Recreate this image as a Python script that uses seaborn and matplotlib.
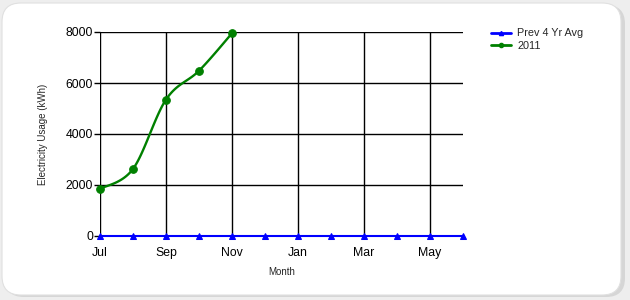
import numpy as np
import pandas as pd
import matplotlib
matplotlib.use("Agg")
import matplotlib.pyplot as plt
from matplotlib.patches import FancyBboxPatch
from matplotlib.lines import Line2D
import seaborn as sns

months = ["Jul", "Aug", "Sep", "Oct", "Nov", "Dec", "Jan", "Feb", "Mar", "Apr", "May", "Jun"]
prev_avg = [0, 0, 0, 0, 0, 0, 0, 0, 0, 0, 0, 0]
usage_2011 = [1850, 2630, 5350, 6480, 7950]
tick_labels = ["Jul", "Sep", "Nov", "Jan", "Mar", "May"]
y_ticks = [0, 2000, 4000, 6000, 8000]

sns.set_style("white")
plt.rcParams["font.family"] = ["Liberation Sans", "DejaVu Sans"]

fig = plt.figure(figsize=(6.3, 3.0), dpi=100)
fig.patch.set_facecolor("#eeeeee")
# rounded frame with shadow
fig.patches.append(FancyBboxPatch((5 / 630, 3 / 300), 620 / 630, 292 / 300,
                                  boxstyle="round,pad=0,rounding_size=0.03",
                                  transform=fig.transFigure, facecolor="#d6d6d6",
                                  edgecolor="none", zorder=-2, mutation_aspect=630 / 300))
fig.patches.append(FancyBboxPatch((2 / 630, 5 / 300), 619 / 630, 292 / 300,
                                  boxstyle="round,pad=0,rounding_size=0.03",
                                  transform=fig.transFigure, facecolor="white",
                                  edgecolor="#e0e0e0", linewidth=0.8, zorder=-1,
                                  mutation_aspect=630 / 300))

ax = fig.add_axes([100 / 630, 1 - 236 / 300, 363 / 630, 204 / 300])
ax.set_facecolor("none")
ax.set_zorder(1)

x_all = np.arange(len(months))
df_prev = pd.DataFrame({"x": x_all, "y": prev_avg})
x_u = np.arange(len(usage_2011))
df_u = pd.DataFrame({"x": x_u, "y": usage_2011})

# Catmull-Rom smoothing of the 2011 series
def catmull(xs, ys, n=30):
    P = np.column_stack([xs, ys]).astype(float)
    P = np.vstack([P[0], P, P[-1]])
    out = []
    for i in range(1, len(P) - 2):
        p0, p1, p2, p3 = P[i - 1], P[i], P[i + 1], P[i + 2]
        t = np.linspace(0, 1, n)[:, None]
        pts = 0.5 * ((2 * p1) + (-p0 + p2) * t + (2 * p0 - 5 * p1 + 4 * p2 - p3) * t ** 2
                     + (-p0 + 3 * p1 - 3 * p2 + p3) * t ** 3)
        out.append(pts if i == len(P) - 3 else pts[:-1])
    return np.vstack(out)

sm = catmull(x_u, usage_2011)
df_sm = pd.DataFrame({"x": sm[:, 0], "y": sm[:, 1]})

# gridlines
for xv in range(0, len(months), 2):
    ax.axvline(xv, color="black", lw=1.0, zorder=1)
for yv in y_ticks:
    ax.axhline(yv, color="black", lw=1.0, zorder=1)

sns.lineplot(data=df_prev, x="x", y="y", ax=ax, color="#0000ff", lw=1.5,
             marker="^", markersize=5, markeredgecolor="#0000ff", clip_on=False, zorder=3,
             estimator=None, sort=False)
sns.lineplot(data=df_sm, x="x", y="y", ax=ax, color="#008000", lw=1.7,
             clip_on=False, zorder=4, estimator=None, sort=False)
sns.lineplot(data=df_u, x="x", y="y", ax=ax, color="#008000", lw=0,
             marker="o", markersize=5.5, markeredgecolor="#008000", clip_on=False, zorder=5,
             estimator=None, sort=False)

ax.set_xlim(0, len(months) - 1)
ax.set_ylim(0, 8000)
ax.set_xticks(range(0, len(months), 2))
ax.set_xticklabels(tick_labels, va="baseline")
ax.set_yticks(y_ticks)
ax.set_yticklabels([str(v) for v in y_ticks])
for s in ax.spines.values():
    s.set_visible(False)
ax.tick_params(axis="y", length=4, width=1, color="black", pad=1, labelsize=8.8, labelcolor="black", left=True)
ax.tick_params(axis="x", length=0, pad=14.2, labelsize=8.8, labelcolor="black")
ax.set_xlabel("Month", fontsize=7, va="baseline")
ax.xaxis.set_label_coords(0.5, -(275 - 236) / 204)
ax.set_ylabel("Electricity Usage (kWh)", fontsize=7, labelpad=13)

handles = [Line2D([], [], color="#0000ff", lw=2, marker="^", markersize=3),
           Line2D([], [], color="#008000", lw=2, marker="o", markersize=3)]
fig.legend(handles, ["Prev 4 Yr Avg", "2011"], loc="upper left",
           bbox_to_anchor=(487 / 630, 1 - 24 / 300), frameon=False, fontsize=7.8,
           handlelength=1.8, handletextpad=0.6, labelspacing=0.25, borderaxespad=0)

fig.savefig("out.png", dpi=100, facecolor=fig.get_facecolor())
